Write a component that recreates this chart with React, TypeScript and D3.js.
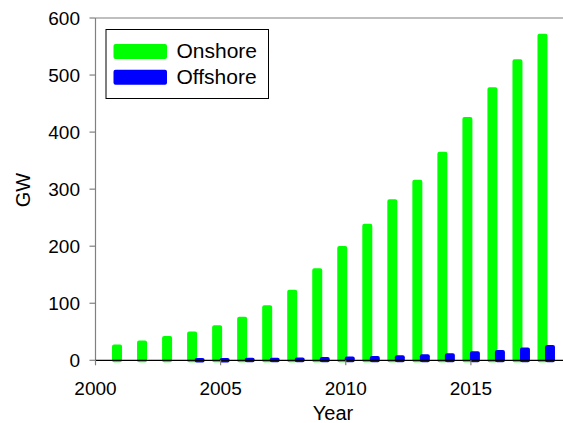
import React from "react";
import * as d3 from "d3";

const years = [2001, 2002, 2003, 2004, 2005, 2006, 2007, 2008, 2009, 2010, 2011, 2012, 2013, 2014, 2015, 2016, 2017, 2018];
const onshore = [24, 31, 39, 47, 58, 73, 93, 120, 158, 197, 236, 279, 313, 362, 423, 475, 524, 569];
const offshoreYears = [2004, 2005, 2006, 2007, 2008, 2009, 2010, 2011, 2012, 2013, 2014, 2015, 2016, 2017, 2018];
const offshore = [0.7, 0.7, 0.9, 1.1, 1.5, 2.1, 3.0, 4.1, 5.4, 7.0, 8.7, 12.2, 14.4, 18.8, 23.1];
const xTicks = [2000, 2005, 2010, 2015];
const yTicks = [0, 100, 200, 300, 400, 500, 600];
const seriesNames = ["Onshore", "Offshore"];
const colors = ["#00ff00", "#0000ff"];

const W = 563, H = 423;
const left = 95.5, right = 563.5, top = 18, bottom = 360.3;
const FONT = "'Liberation Sans', Arial, sans-serif";

export default function App() {
  const x = d3.scaleLinear().domain([2000, 2018.7]).range([left, right]);
  const y = d3.scaleLinear().domain([0, 600]).range([bottom, top]);
  const sw = 4;
  const inner = 6;
  const bar = (cx: number, v: number, color: string, key: string) => {
    const yt = y(v);
    const h = Math.max(bottom - yt, 0.5);
    return (
      <rect key={key} x={cx - inner / 2} y={yt} width={inner} height={h}
        fill={color} stroke={color} strokeWidth={sw} strokeLinejoin="round" />
    );
  };
  return (
    <svg width={W} height={H} style={{ position: "absolute", left: 0, top: 0 }} fontFamily={FONT}>
      <rect x={0} y={0} width={W} height={H} fill="#fff" />
      {years.map((yr, i) => bar(x(yr) - 3.5, onshore[i], colors[0], "on" + yr))}
      {offshoreYears.map((yr, i) => bar(x(yr) + 4, offshore[i], colors[1], "off" + yr))}
      {/* frame */}
      <line x1={left} x2={right} y1={top} y2={top} stroke="#808080" strokeWidth={1.2} />
      <line x1={left} x2={left} y1={top} y2={bottom} stroke="#808080" strokeWidth={1.2} />
      <line x1={left} x2={right} y1={bottom} y2={bottom} stroke="#000" strokeWidth={1.3} />
      {yTicks.map(t => (
        <g key={"yt" + t}>
          <line x1={left - 6} x2={left} y1={y(t)} y2={y(t)} stroke="#808080" strokeWidth={1.2} />
          <text x={80} y={y(t)} dy="0.36em" textAnchor="end" fontSize={19} fill="#000">{t}</text>
        </g>
      ))}
      {xTicks.map(t => (
        <g key={"xt" + t}>
          <line x1={x(t)} x2={x(t)} y1={bottom} y2={bottom + 5} stroke="#808080" strokeWidth={1.2} />
          <text x={x(t)} y={395} textAnchor="middle" fontSize={19} fill="#000">{t}</text>
        </g>
      ))}
      <text x={333} y={420} textAnchor="middle" fontSize={20} fill="#000">Year</text>
      <text transform="translate(30,190) rotate(-90)" textAnchor="middle" fontSize={20} fill="#000">GW</text>
      {/* legend */}
      <rect x={106} y={29.5} width={162.5} height={69} fill="#fff" stroke="#000" strokeWidth={1} />
      {seriesNames.map((n, i) => (
        <g key={n}>
          <rect x={113.5} y={44 + i * 25.7} width={53.5} height={15} rx={2} fill={colors[i]} />
          <text x={176.5} y={58.3 + i * 26} fontSize={21} fill="#000">{n}</text>
        </g>
      ))}
    </svg>
  );
}
